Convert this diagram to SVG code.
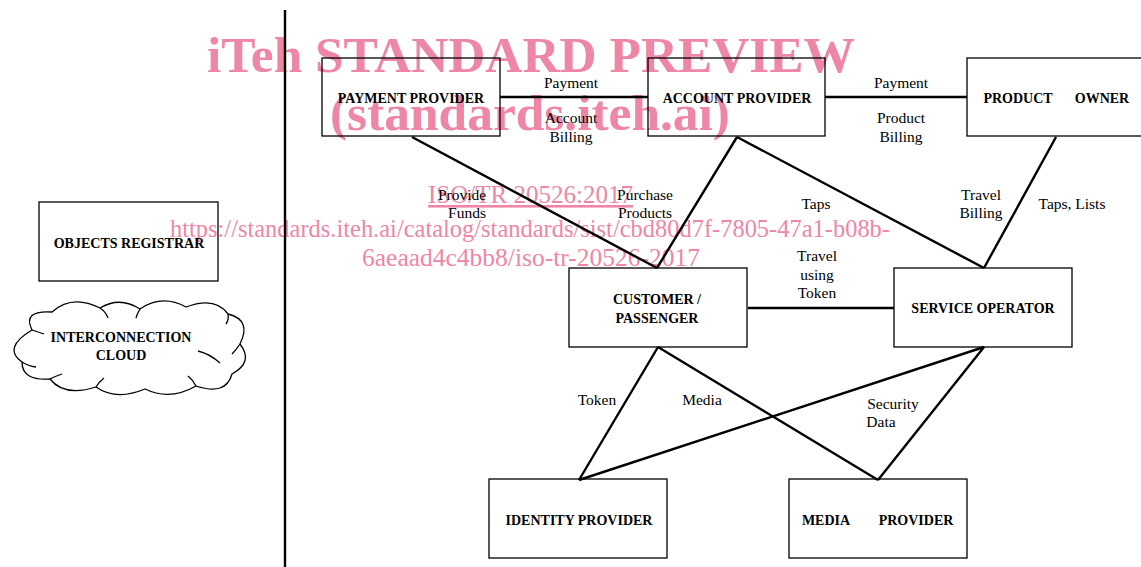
<svg xmlns="http://www.w3.org/2000/svg" width="1141" height="567" viewBox="0 0 1141 567">
<style>
.box{fill:none;stroke:#000;stroke-width:1.3}
.ln{fill:none;stroke:#000;stroke-width:2.4}
.nt{font-family:"Liberation Serif",serif;font-weight:bold;font-size:14px;fill:#000;text-anchor:middle}
.lb{font-family:"Liberation Serif",serif;font-size:15.5px;fill:#000;text-anchor:middle}
.wm{font-family:"Liberation Serif",serif;fill:#ee86a6}
</style>
<rect width="1141" height="567" fill="#fff"/>
<g id="watermark">
<text class="wm" x="207" y="72" font-size="51" font-weight="bold" textLength="648" lengthAdjust="spacingAndGlyphs">iTeh STANDARD PREVIEW</text>
<text class="wm" x="330" y="130" font-size="51" font-weight="bold" textLength="400" lengthAdjust="spacingAndGlyphs">(standards.iteh.ai)</text>
<text class="wm" x="428" y="203" font-size="26" text-decoration="underline" textLength="205" lengthAdjust="spacingAndGlyphs">ISO/TR 20526:2017</text>
<text class="wm" x="170" y="237" font-size="26" textLength="720" lengthAdjust="spacingAndGlyphs">https://standards.iteh.ai/catalog/standards/sist/cbd80d7f-7805-47a1-b08b-</text>
<text class="wm" x="362" y="266" font-size="26" textLength="338" lengthAdjust="spacingAndGlyphs">6aeaad4c4bb8/iso-tr-20526-2017</text>
</g>
<g id="connectors">
<line class="ln" x1="285" y1="10" x2="285" y2="567"/>
<line class="ln" x1="500" y1="97" x2="648" y2="97"/>
<line class="ln" x1="825" y1="97" x2="967" y2="97"/>
<line class="ln" x1="412" y1="137" x2="657" y2="268"/>
<line class="ln" x1="737" y1="137" x2="657" y2="268"/>
<line class="ln" x1="737" y1="137" x2="984" y2="268"/>
<line class="ln" x1="1056" y1="137" x2="984" y2="268"/>
<line class="ln" x1="748" y1="308" x2="894" y2="308"/>
<line class="ln" x1="658" y1="347" x2="579" y2="480"/>
<line class="ln" x1="658" y1="347" x2="878" y2="480"/>
<line class="ln" x1="984" y1="347" x2="579" y2="480"/>
<line class="ln" x1="984" y1="347" x2="878" y2="480"/>
</g>
<g id="labels">
<text class="lb" x="571" y="88">Payment</text>
<text class="lb" x="571" y="123">Account</text>
<text class="lb" x="571" y="142">Billing</text>
<text class="lb" x="901" y="88">Payment</text>
<text class="lb" x="901" y="123">Product</text>
<text class="lb" x="901" y="142">Billing</text>
<text class="lb" x="462" y="200">Provide</text>
<text class="lb" x="467" y="218">Funds</text>
<text class="lb" x="645" y="200">Purchase</text>
<text class="lb" x="645" y="218">Products</text>
<text class="lb" x="816" y="209">Taps</text>
<text class="lb" x="981" y="200">Travel</text>
<text class="lb" x="981" y="218">Billing</text>
<text class="lb" x="1072" y="209">Taps, Lists</text>
<text class="lb" x="817" y="261">Travel</text>
<text class="lb" x="817" y="280">using</text>
<text class="lb" x="817" y="298">Token</text>
<text class="lb" x="597" y="405">Token</text>
<text class="lb" x="702" y="405">Media</text>
<text class="lb" x="893" y="409">Security</text>
<text class="lb" x="881" y="427">Data</text>
</g>
<g id="payment-provider">
<rect class="box" x="322" y="58" width="178" height="78"/>
<text class="nt" x="411" y="103">PAYMENT PROVIDER</text>
</g>
<g id="account-provider">
<rect class="box" x="648" y="58" width="177" height="78"/>
<text class="nt" x="737" y="103">ACCOUNT PROVIDER</text>
</g>
<g id="product-owner">
<rect class="box" x="967" y="58" width="185" height="78"/>
<text class="nt" x="1018" y="103">PRODUCT</text>
<text class="nt" x="1102" y="103">OWNER</text>
</g>
<g id="objects-registrar">
<rect class="box" x="39" y="202" width="179" height="79"/>
<text class="nt" x="129" y="248">OBJECTS REGISTRAR</text>
</g>
<g id="interconnection-cloud">
<path class="box" stroke-width="2" d="M32,330 Q22,310 52,312 Q72,294 100,308 Q120,296 140,309 Q162,294 186,307 Q215,296 228,314 Q252,320 240,344 Q254,362 232,374 Q226,396 196,386 Q170,401 145,389 Q116,401 96,387 Q64,397 50,379 Q22,381 22,362 Q2,348 32,330 Z"/>
<path class="box" stroke-width="2" d="M32,330 Q38,332 44,334 M100,308 Q106,312 108,318 M140,309 Q137,314 136,318 M228,314 Q229,320 226,324 M240,344 Q236,350 232,354 M198,351 Q210,354 220,363 M196,386 Q193,380 188,376 M96,387 Q99,382 104,378 M50,379 Q56,376 62,374 M22,362 Q28,366 36,367"/>
<text class="nt" x="121" y="342">INTERCONNECTION</text>
<text class="nt" x="121" y="360">CLOUD</text>
</g>
<g id="customer-passenger">
<rect class="box" x="569" y="268" width="178" height="79"/>
<text class="nt" x="657" y="304">CUSTOMER /</text>
<text class="nt" x="657" y="323">PASSENGER</text>
</g>
<g id="service-operator">
<rect class="box" x="894" y="268" width="178" height="79"/>
<text class="nt" x="983" y="313">SERVICE OPERATOR</text>
</g>
<g id="identity-provider">
<rect class="box" x="489" y="479" width="178" height="79"/>
<text class="nt" x="579" y="525">IDENTITY PROVIDER</text>
</g>
<g id="media-provider">
<rect class="box" x="789" y="479" width="178" height="79"/>
<text class="nt" x="826" y="525">MEDIA</text>
<text class="nt" x="916" y="525">PROVIDER</text>
</g>
</svg>
